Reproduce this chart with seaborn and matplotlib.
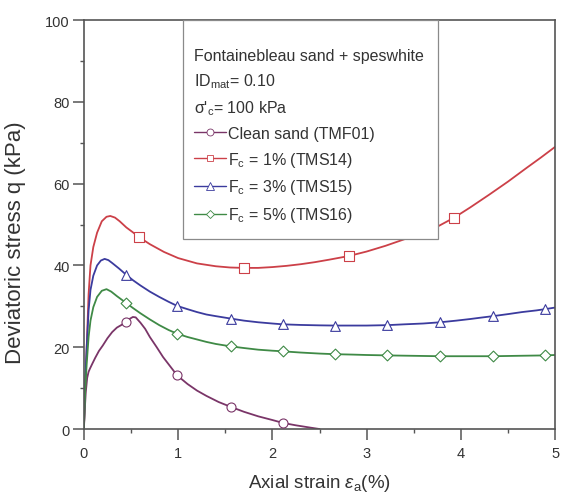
import matplotlib
matplotlib.use("Agg")
import matplotlib.pyplot as plt
from matplotlib.lines import Line2D
from matplotlib.patches import Rectangle
from matplotlib.ticker import MultipleLocator
import pandas as pd
import seaborn as sns

# Triaxial test curves: axial strain (%) vs deviatoric stress q (kPa)
clean_strain = [0, 0.01, 0.02, 0.035, 0.05, 0.065, 0.09, 0.12, 0.16, 0.20, 0.25, 0.30, 0.35,
                0.41, 0.45, 0.49, 0.52, 0.55, 0.60, 0.65, 0.70, 0.77, 0.84, 0.92, 0.99,
                1.10, 1.20, 1.30, 1.43, 1.56, 1.70, 1.85, 2.00, 2.11, 2.25, 2.40, 2.50]
clean_q = [0, 5, 9, 12.5, 14.0, 14.8, 16.0, 17.4, 19.1, 20.4, 22.2, 23.7, 24.8,
           25.6, 26.1, 27.0, 27.4, 27.3, 26.0, 24.5, 22.5, 20.1, 17.6, 15.2, 13.1,
           11.0, 9.4, 8.1, 6.6, 5.4, 4.2, 3.1, 2.2, 1.5, 0.9, 0.35, 0]
clean_mark_strain = [0.45, 0.99, 1.56, 2.11]

fc1_strain = [0, 0.015, 0.03, 0.05, 0.07, 0.10, 0.14, 0.19, 0.24, 0.28, 0.33, 0.38, 0.45,
              0.52, 0.58, 0.70, 0.85, 1.00, 1.20, 1.40, 1.55, 1.70, 1.85, 2.00, 2.15,
              2.30, 2.45, 2.60, 2.81, 3.00, 3.20, 3.40, 3.60, 3.76, 3.93, 4.10, 4.30,
              4.50, 4.70, 4.85, 5.00]
fc1_q = [0, 11, 20, 33, 40, 44.5, 48, 50.8, 51.9, 52.1, 51.7, 50.8, 49.3,
         48.1, 47, 45.2, 43.3, 41.8, 40.5, 39.8, 39.5, 39.4, 39.4, 39.6, 39.9,
         40.3, 40.8, 41.4, 42.3, 43.4, 44.8, 46.4, 48.1, 49.6, 51.7, 54.2, 57.3,
         60.5, 63.9, 66.4, 69]
fc1_mark_strain = [0.58, 1.70, 2.81, 3.93]

fc3_strain = [0, 0.015, 0.03, 0.05, 0.07, 0.10, 0.14, 0.18, 0.22, 0.26, 0.30, 0.37, 0.45,
              0.52, 0.60, 0.70, 0.80, 0.90, 0.99, 1.10, 1.20, 1.30, 1.40, 1.56, 1.70,
              1.85, 2.00, 2.11, 2.30, 2.50, 2.66, 2.85, 3.00, 3.22, 3.40, 3.60, 3.78,
              3.95, 4.10, 4.20, 4.34, 4.50, 4.65, 4.80, 4.89, 5.00]
fc3_q = [0, 12, 20, 29, 34, 37.5, 40, 41.2, 41.6, 41.3, 40.6, 39.3, 37.7,
         36.4, 35.1, 33.6, 32.3, 31.1, 30.1, 29.3, 28.6, 28.0, 27.6, 27.0, 26.5,
         26.1, 25.8, 25.6, 25.45, 25.35, 25.3, 25.3, 25.3, 25.4, 25.6, 25.8, 26.1,
         26.5, 26.9, 27.2, 27.6, 28.1, 28.6, 29.0, 29.3, 29.7]
fc3_mark_strain = [0.45, 0.99, 1.56, 2.11, 2.66, 3.22, 3.78, 4.34, 4.89]

fc5_strain = [0, 0.015, 0.03, 0.05, 0.07, 0.10, 0.14, 0.19, 0.24, 0.29, 0.35, 0.45, 0.52,
              0.60, 0.70, 0.80, 0.90, 0.99, 1.10, 1.20, 1.30, 1.40, 1.56, 1.70, 1.85,
              2.00, 2.11, 2.30, 2.50, 2.66, 2.85, 3.00, 3.22, 3.50, 3.78, 4.05, 4.34,
              4.60, 4.89, 5.00]
fc5_q = [0, 10, 16, 22.5, 26.5, 29.8, 32.3, 33.8, 34.2, 33.6, 32.5, 30.8, 29.6,
         28.3, 26.8, 25.4, 24.2, 23.3, 22.5, 21.9, 21.3, 20.8, 20.2, 19.8, 19.4,
         19.15, 19.0, 18.7, 18.45, 18.3, 18.2, 18.1, 18.0, 17.9, 17.8, 17.8, 17.8,
         17.9, 18.0, 18.1]
fc5_mark_strain = [0.45, 0.99, 1.56, 2.11, 2.66, 3.22, 3.78, 4.34, 4.89]

labels = ["Clean sand (TMF01)",
          r"F$_\mathrm{c}$ = 1% (TMS14)",
          r"F$_\mathrm{c}$ = 3% (TMS15)",
          r"F$_\mathrm{c}$ = 5% (TMS16)"]
colors = ["#7a3568", "#cc4048", "#3b3b9e", "#3f8a46"]
markers = ["o", "s", "^", "D"]
marker_sizes = [6.5, 6.5, 7, 5.5]

series = [
    (clean_strain, clean_q, clean_mark_strain),
    (fc1_strain, fc1_q, fc1_mark_strain),
    (fc3_strain, fc3_q, fc3_mark_strain),
    (fc5_strain, fc5_q, fc5_mark_strain),
]

sns.set_theme(style="ticks")
plt.rcParams["font.family"] = ["Liberation Sans", "DejaVu Sans"]
plt.rcParams["mathtext.fontset"] = "custom"
plt.rcParams["mathtext.rm"] = "Liberation Sans"
plt.rcParams["mathtext.it"] = "Liberation Sans:italic"

fig = plt.figure(figsize=(5.63, 5.02), dpi=100)
ax = fig.add_axes([0.149, 0.1434, 0.837, 0.8146])

handles = []
for (sx, sy, mark_x), lab, col, mk, ms in zip(series, labels, colors, markers, marker_sizes):
    df = pd.DataFrame({"strain": sx, "q": sy})
    sns.lineplot(data=df, x="strain", y="q", ax=ax, color=col, lw=1.3,
                 sort=False, estimator=None, legend=False)
    mdf = df[df["strain"].isin(mark_x)]
    sns.scatterplot(data=mdf, x="strain", y="q", ax=ax, marker=mk, s=ms ** 2,
                    facecolor="white", edgecolor=col, linewidth=0.8, zorder=3,
                    legend=False)
    handles.append(Line2D([0], [0], color=col, lw=1.0, marker=mk, markersize=ms - 1.5,
                          markerfacecolor="white", markeredgecolor=col,
                          markeredgewidth=0.6, label=lab))

ax.set_xlim(0, 5)
ax.set_ylim(0, 100)
ax.xaxis.set_major_locator(MultipleLocator(1))
ax.xaxis.set_minor_locator(MultipleLocator(0.5))
ax.yaxis.set_major_locator(MultipleLocator(20))
ax.yaxis.set_minor_locator(MultipleLocator(10))
ax.tick_params(which="major", length=8, width=1.1, color="#555555",
               labelsize=10.5, labelcolor="#333333")
ax.tick_params(axis="x", which="major", pad=4)
ax.tick_params(axis="y", which="major", pad=2)
ax.tick_params(which="minor", length=3, width=1.0, color="#555555")
ax.tick_params(top=False, right=False, which="both")
for sp in ax.spines.values():
    sp.set_visible(True)
    sp.set_color("#555555")
    sp.set_linewidth(1.2)

ax.set_xlabel(r"Axial strain $\varepsilon_\mathrm{a}$(%)", fontsize=13.5,
              color="#333333", labelpad=9)
ax.set_ylabel("Deviatoric stress q (kPa)", fontsize=16, color="#333333")
ax.yaxis.set_label_coords(-0.123, 0.457)

# Legend panel: white box over the curves, then the legend text inside it
box = Rectangle((0.210, 0.465), 0.542, 0.535, transform=ax.transAxes,
                facecolor="white", edgecolor="#8a8a8a", linewidth=0.9, zorder=4)
ax.add_patch(box)

title = ("Fontainebleau sand + speswhite\n"
         r"ID$_\mathrm{mat}$= 0.10" "\n"
         r"σ'$_\mathrm{c}$= 100 kPa")
leg = ax.legend(handles=handles, title=title, loc="upper left",
                bbox_to_anchor=(0.234, 0.932), fontsize=11.5, title_fontsize=11.5,
                alignment="left", frameon=False, handlelength=2.0,
                handletextpad=0.15, labelspacing=0.55, borderpad=0,
                borderaxespad=0)
leg.set_zorder(5)
leg.get_title().set_color("#333333")
leg.get_title().set_linespacing(1.6)
for t in leg.get_texts():
    t.set_color("#333333")

fig.savefig("out.png", dpi=100)
